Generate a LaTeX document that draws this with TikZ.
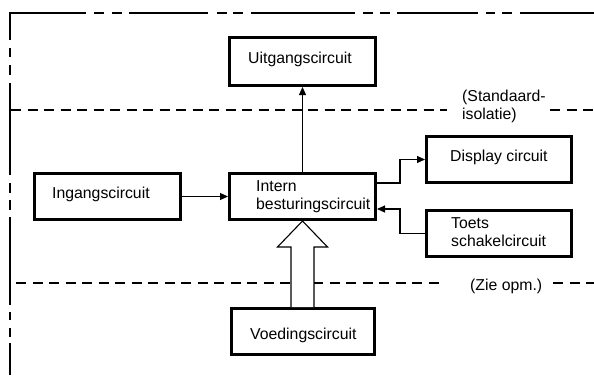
\documentclass[tikz,border=0pt]{standalone}
\usepackage{fontspec}
\setmainfont{Liberation Sans}
\usetikzlibrary{arrows.meta,calc}
\begin{document}
\begin{tikzpicture}[x=1pt,y=-1pt,
  box/.style={draw,line width=2.6pt,minimum width=146.4pt,minimum height=46.4pt,inner sep=0pt},
  conn/.style={line width=1.1pt,-{Triangle[length=8pt,width=7pt]}},
  sepline/.style={line width=1.2pt,dash pattern=on 10pt off 6.5pt},
  lbl/.style={inner sep=0pt,align=left},
  hollow/.style={line width=1.1pt,fill=white,line join=miter},
  font=\fontsize{15.8}{18}\selectfont]
\useasboundingbox (0,0) rectangle (594,375);
% outer boundary
\draw[line width=2.8pt,line join=miter,dash pattern=on 32pt off 6pt on 9pt off 8pt on 8pt off 7pt on 88pt off 7pt on 10pt off 7pt on 10pt off 8pt on 92pt off 8pt on 10pt off 8pt on 9pt off 8pt on 103pt off 8pt on 10pt off 8pt on 10pt off 7pt on 79pt off 9pt on 10pt off 6pt on 10pt off 8pt on 104pt off 8pt on 10pt off 7pt on 10pt off 7pt on 81pt off 8pt on 9pt off 7pt on 10pt off 8pt on 100pt off 10pt]
  (10,375) -- (10,13) -- (594,13);
% separation lines
\draw[sepline] (11,110) -- (447,110);
\draw[sepline] (550,110) -- (594,110);
\draw[sepline] (16,283) -- (440,283);
\draw[sepline] (553,283) -- (594,283);
% boxes
\node[box,minimum height=48.4pt] (uit) at (302.5,61.5) {};
\node[box] (ing) at (107.5,196.5) {};
\node[box] (int) at (302.5,196.5) {};
\node[box,minimum width=145.4pt] (dis) at (499,159.5) {};
\node[box,minimum width=145.4pt] (toe) at (499,233.5) {};
\node[box,minimum width=143.4pt] (voe) at (303,331.5) {};
% texts
\node[lbl,anchor=base] (tuit) at (300,63) {Uitgangscircuit};
\node[lbl,anchor=base west] (ting) at (52,198) {Ingangscircuit};
\node[lbl,anchor=west] (tint) at (256,196.4) {Intern\\besturingscircuit};
\node[lbl,anchor=base west] (tdis) at (450,161.5) {Display circuit};
\node[lbl,anchor=west] (ttoe) at (451,232.4) {Toets\\schakelcircuit};
\node[lbl,anchor=base west] (tvoe) at (250,339) {Voedingscircuit};
\node[lbl,anchor=west] (tstd) at (462,106.6) {(Standaard-\\isolatie)};
\node[lbl,anchor=base west] (tzie) at (470,290.5) {(Zie opm.)};
% connectors
\draw[conn] (ing.east) -- (int.west);
\draw[conn] (int.north) -- (uit.south);
\coordinate (p1) at ($(int.east)+(0,-13.5)$);
\draw[conn] (p1) -| ($(dis.west)+(-25,0)$) -- (dis.west);
\coordinate (p2) at ($(int.east)+(0,12.5)$);
\draw[conn] (toe.west) -| ($(p2)+(23,0)$) -- (p2);
% hollow power arrow
\draw[hollow] ($(int.south |- voe.north)+(-11.5,0)$) -- ($(int.south)+(-11.5,26)$)
  -- ($(int.south)+(-25,26)$) -- (int.south) -- ($(int.south)+(25,26)$)
  -- ($(int.south)+(11.5,26)$) -- ($(int.south |- voe.north)+(11.5,0)$);
\end{tikzpicture}
\end{document}
